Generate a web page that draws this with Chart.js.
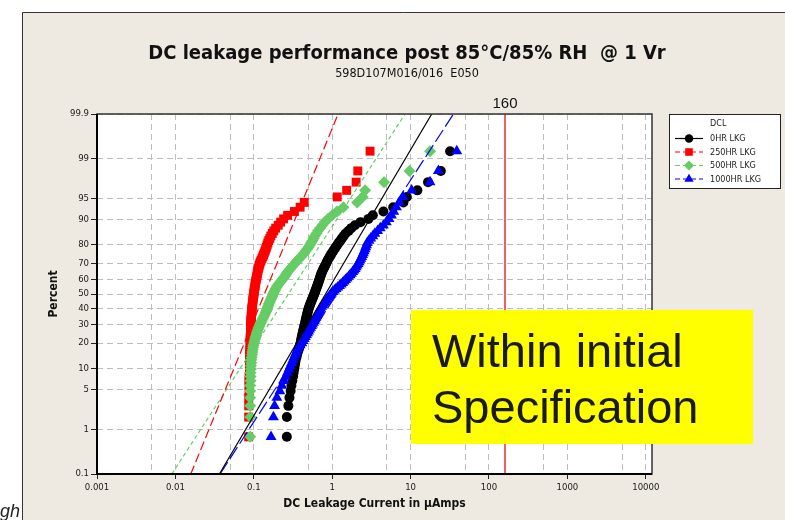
<!DOCTYPE html>
<html>
<head>
<meta charset="utf-8">
<title>DC leakage performance post 85°C/85% RH</title>
<script src="https://cdn.jsdelivr.net/npm/chart.js@4.4.0/dist/chart.umd.min.js"></script>
<style>
  html, body { margin: 0; padding: 0; background: #fff; }
  #wrap { width: 785px; height: 520px; }
</style>
</head>
<body>
<div id="wrap"><canvas id="probChart" width="785" height="520"></canvas></div>
<script>
// ---- data ----
const seriesNames = ['0HR LKG', '250HR LKG', '500HR LKG', '1000HR LKG'];

// plotting position (percent) of each ranked unit, 98 units per read point
const rankPercent = [0.71, 1.73, 2.74, 3.76, 4.78, 5.79, 6.81, 7.83, 8.84, 9.86,
  10.87, 11.89, 12.91, 13.92, 14.94, 15.96, 16.97, 17.99, 19.00, 20.02,
  21.04, 22.05, 23.07, 24.09, 25.10, 26.12, 27.13, 28.15, 29.17, 30.18,
  31.20, 32.22, 33.23, 34.25, 35.26, 36.28, 37.30, 38.31, 39.33, 40.35,
  41.36, 42.38, 43.39, 44.41, 45.43, 46.44, 47.46, 48.48, 49.49, 50.51,
  51.52, 52.54, 53.56, 54.57, 55.59, 56.61, 57.62, 58.64, 59.65, 60.67,
  61.69, 62.70, 63.72, 64.74, 65.75, 66.77, 67.78, 68.80, 69.82, 70.83,
  71.85, 72.87, 73.88, 74.90, 75.91, 76.93, 77.95, 78.96, 79.98, 81.00,
  82.01, 83.03, 84.04, 85.06, 86.08, 87.09, 88.11, 89.13, 90.14, 91.16,
  92.17, 93.19, 94.21, 95.22, 96.24, 97.26, 98.27, 99.29];

// leakage current in uA, sorted
const lkg0hr = [0.264, 0.264, 0.276, 0.285, 0.295, 0.302, 0.310, 0.317, 0.322, 0.328,
  0.333, 0.338, 0.343, 0.350, 0.357, 0.364, 0.372, 0.380, 0.388, 0.395,
  0.400, 0.405, 0.410, 0.415, 0.420, 0.425, 0.430, 0.436, 0.442, 0.448,
  0.453, 0.458, 0.463, 0.468, 0.473, 0.478, 0.484, 0.490, 0.496, 0.502,
  0.510, 0.518, 0.526, 0.535, 0.545, 0.555, 0.565, 0.575, 0.585, 0.595,
  0.605, 0.615, 0.625, 0.635, 0.645, 0.655, 0.665, 0.675, 0.685, 0.695,
  0.705, 0.716, 0.728, 0.742, 0.758, 0.775, 0.795, 0.815, 0.835, 0.855,
  0.875, 0.900, 0.930, 0.960, 0.990, 1.03, 1.07, 1.11, 1.16, 1.21,
  1.27, 1.33, 1.40, 1.48, 1.62, 1.75, 1.95, 2.30, 2.90, 3.30,
  4.50, 6.00, 8.10, 8.95, 12.2, 16.7, 24.3, 31.9];

const lkg250hr = [0.086, 0.086, 0.086, 0.086, 0.087, 0.087, 0.087, 0.087, 0.088, 0.088,
  0.088, 0.088, 0.088, 0.089, 0.089, 0.089, 0.089, 0.090, 0.090, 0.090,
  0.090, 0.090, 0.090, 0.091, 0.091, 0.091, 0.091, 0.091, 0.091, 0.092,
  0.092, 0.092, 0.092, 0.093, 0.093, 0.093, 0.094, 0.094, 0.094, 0.095,
  0.095, 0.096, 0.096, 0.097, 0.097, 0.098, 0.098, 0.099, 0.100, 0.100,
  0.101, 0.101, 0.102, 0.103, 0.104, 0.104, 0.105, 0.106, 0.107, 0.108,
  0.109, 0.110, 0.111, 0.112, 0.113, 0.114, 0.116, 0.117, 0.119, 0.121,
  0.124, 0.127, 0.130, 0.133, 0.136, 0.139, 0.142, 0.145, 0.148, 0.151,
  0.155, 0.160, 0.165, 0.172, 0.180, 0.190, 0.205, 0.220, 0.240, 0.270,
  0.330, 0.390, 0.440, 1.16, 1.53, 2.02, 2.12, 3.04];

const lkg500hr = [0.090, 0.090, 0.090, 0.090, 0.090, 0.090, 0.091, 0.091, 0.091, 0.092,
  0.092, 0.093, 0.093, 0.094, 0.095, 0.096, 0.097, 0.098, 0.099, 0.101,
  0.102, 0.104, 0.105, 0.107, 0.109, 0.111, 0.113, 0.115, 0.118, 0.120,
  0.123, 0.126, 0.129, 0.132, 0.135, 0.138, 0.141, 0.144, 0.147, 0.149,
  0.151, 0.154, 0.156, 0.159, 0.162, 0.165, 0.169, 0.172, 0.175, 0.178,
  0.182, 0.186, 0.190, 0.195, 0.200, 0.207, 0.214, 0.222, 0.230, 0.238,
  0.246, 0.254, 0.262, 0.270, 0.280, 0.292, 0.305, 0.318, 0.332, 0.346,
  0.362, 0.380, 0.400, 0.420, 0.440, 0.460, 0.480, 0.500, 0.520, 0.540,
  0.560, 0.580, 0.600, 0.630, 0.660, 0.700, 0.750, 0.800, 0.880, 1.00,
  1.15, 1.39, 2.08, 2.45, 2.63, 4.59, 9.66, 17.7];

const lkg1000hr = [0.166, 0.178, 0.184, 0.197, 0.215, 0.228, 0.242, 0.255, 0.268, 0.280,
  0.292, 0.304, 0.315, 0.326, 0.337, 0.348, 0.360, 0.375, 0.390, 0.410,
  0.425, 0.440, 0.455, 0.470, 0.485, 0.500, 0.515, 0.530, 0.545, 0.560,
  0.575, 0.590, 0.605, 0.620, 0.635, 0.650, 0.665, 0.680, 0.695, 0.710,
  0.735, 0.760, 0.785, 0.810, 0.835, 0.860, 0.890, 0.920, 0.950, 0.980,
  1.02, 1.07, 1.12, 1.18, 1.24, 1.30, 1.36, 1.42, 1.48, 1.55,
  1.62, 1.69, 1.76, 1.83, 1.90, 1.96, 2.02, 2.08, 2.14, 2.20,
  2.26, 2.32, 2.38, 2.44, 2.50, 2.56, 2.62, 2.68, 2.74, 2.80,
  2.95, 3.10, 3.30, 3.50, 3.80, 4.10, 4.50, 4.90, 5.30, 5.70,
  6.10, 6.60, 7.20, 8.00, 10.3, 17.7, 22.6, 38.8];

// lognormal fit lines: current at 0.1% and at 99.9%
const fitPercent = [0.1, 99.9];
const fit0hr = [0.0364, 18.6];
const fit250hr = [0.0157, 1.19];
const fit500hr = [0.0090, 8.5];
const fit1000hr = [0.0371, 35.2];

const specLimit = 160;

const xTickValues = [0.001, 0.005, 0.01, 0.05, 0.1, 0.5, 1, 5, 10, 50, 100, 500, 1000, 5000, 10000];
const xTickLabels = ['0.001', '', '0.01', '', '0.1', '', '1', '', '10', '', '100', '', '1000', '', '10000'];
const yTickValues = [0.1, 1, 5, 10, 20, 30, 40, 50, 60, 70, 80, 90, 95, 99, 99.9];
const yTickLabels = ['0.1', '1', '5', '10', '20', '30', '40', '50', '60', '70', '80', '90', '95', '99', '99.9'];

// ---- look ----
const colors = ['#000000', '#ff0000', '#66cc66', '#0000ff'];
const markerStyles = ['circle', 'rect', 'rectRot', 'triangle'];
const markerSizes = [5, 6.3, 6, 6.3];
const fitDashes = [[], [9, 4], [4, 3], [14, 4]];
const panelColor = '#eeeae1';
const condensed = '"DejaVu Sans Condensed", "DejaVu Sans", sans-serif';
const arial = '"Liberation Sans", Arial, sans-serif';

// inverse of the standard normal cdf (Acklam)
function probit(p) {
    const a = [-39.69683028665376, 220.9460984245205, -275.9285104469687, 138.3577518672690, -30.66479806614716, 2.506628277459239];
    const b = [-54.47609879822406, 161.5858368580409, -155.6989798598866, 66.80131188771082, -13.28068155288572];
    const c = [-0.007784894002430293, -0.3223964580411365, -2.400758277161838, -2.549732539343734, 4.374664141464968, 2.938163982698783];
    const d = [0.007784695709041462, 0.3224671290700398, 2.445134137142996, 3.754408661907416];
    const plow = 0.02425;
    let q, r;
    if (p < plow) {
        q = Math.sqrt(-2 * Math.log(p));
        return (((((c[0] * q + c[1]) * q + c[2]) * q + c[3]) * q + c[4]) * q + c[5]) / ((((d[0] * q + d[1]) * q + d[2]) * q + d[3]) * q + 1);
    }
    if (p > 1 - plow) {
        q = Math.sqrt(-2 * Math.log(1 - p));
        return -(((((c[0] * q + c[1]) * q + c[2]) * q + c[3]) * q + c[4]) * q + c[5]) / ((((d[0] * q + d[1]) * q + d[2]) * q + d[3]) * q + 1);
    }
    q = p - 0.5;
    r = q * q;
    return (((((a[0] * r + a[1]) * r + a[2]) * r + a[3]) * r + a[4]) * r + a[5]) * q / (((((b[0] * r + b[1]) * r + b[2]) * r + b[3]) * r + b[4]) * r + 1);
}

// normal probability axis (values in percent)
class ProbabilityScale extends Chart.Scale {
    determineDataLimits() {
        this.min = this.options.min;
        this.max = this.options.max;
    }
    buildTicks() {
        return yTickValues.map(v => ({ value: v }));
    }
    getLabelForValue(v) {
        return v + '%';
    }
    configure() {
        super.configure();
        this._zLo = probit(this.min / 100);
        this._zHi = probit(this.max / 100);
    }
    getPixelForValue(v) {
        const z = probit(v / 100);
        return this.getPixelForDecimal((z - this._zLo) / (this._zHi - this._zLo));
    }
    getPixelForTick(i) {
        return this.getPixelForValue(this.ticks[i].value);
    }
    getValueForPixel(px) {
        return null;
    }
}
ProbabilityScale.id = 'probability';
ProbabilityScale.defaults = {};
Chart.register(ProbabilityScale);

const seriesValues = [lkg0hr, lkg250hr, lkg500hr, lkg1000hr];
const fits = [fit0hr, fit250hr, fit500hr, fit1000hr];

const datasets = [];
seriesValues.forEach((vals, s) => {
    datasets.push({
        label: seriesNames[s],
        data: vals.map((v, i) => ({ x: v, y: rankPercent[i] })),
        showLine: false,
        pointStyle: markerStyles[s],
        pointRadius: markerSizes[s],
        pointBackgroundColor: colors[s],
        pointBorderWidth: 0,
        order: 5 - s
    });
});
fits.forEach((f, s) => {
    datasets.push({
        label: seriesNames[s] + ' fit',
        data: f.map((v, i) => ({ x: v, y: fitPercent[i] })),
        showLine: true,
        borderColor: colors[s],
        borderWidth: 1.2,
        borderDash: fitDashes[s],
        pointRadius: 0,
        order: 0
    });
});
datasets.push({
    label: 'spec',
    data: [{ x: specLimit, y: fitPercent[0] }, { x: specLimit, y: fitPercent[1] }],
    showLine: true,
    borderColor: '#e01010',
    borderWidth: 1.3,
    pointRadius: 0,
    order: 0
});

const decor = {
    id: 'decor',
    beforeDraw(chart) {
        const ctx = chart.ctx;
        const a = chart.chartArea;
        ctx.save();
        ctx.fillStyle = '#fff';
        ctx.fillRect(0, 0, chart.width, chart.height);
        // end of a word from the slide, cut by the panel
        ctx.fillStyle = '#222';
        ctx.font = 'italic 18px ' + arial;
        ctx.fillText('gh', 0, 517);
        ctx.fillStyle = panelColor;
        ctx.fillRect(22, 12, chart.width - 22, chart.height - 12);
        ctx.strokeStyle = '#333';
        ctx.lineWidth = 1;
        ctx.beginPath();
        ctx.moveTo(22.5, chart.height);
        ctx.lineTo(22.5, 12.5);
        ctx.lineTo(chart.width, 12.5);
        ctx.stroke();
        ctx.fillStyle = '#fff';
        ctx.fillRect(a.left, a.top, a.right - a.left, a.bottom - a.top);
        ctx.restore();
    },
    afterDraw(chart) {
        const ctx = chart.ctx;
        const a = chart.chartArea;
        ctx.save();

        // plot frame
        ctx.strokeStyle = '#333';
        ctx.lineWidth = 1.5;
        ctx.strokeRect(a.left, a.top, a.right - a.left, a.bottom - a.top);
        ctx.strokeStyle = '#000';
        ctx.lineWidth = 2;
        ctx.beginPath();
        ctx.moveTo(a.left, a.top);
        ctx.lineTo(a.left, a.bottom);
        ctx.lineTo(a.right, a.bottom);
        ctx.stroke();

        // titles
        ctx.fillStyle = '#111';
        ctx.textAlign = 'center';
        ctx.textBaseline = 'alphabetic';
        ctx.font = 'bold 20px ' + condensed;
        ctx.fillText('DC leakage performance post 85°C/85% RH  @ 1 Vr', 407, 59);
        ctx.font = '12.5px ' + condensed;
        ctx.fillText('598D107M016/016  E050', 407, 77);
        ctx.font = 'bold 12px ' + condensed;
        ctx.fillText('DC Leakage Current in µAmps', (a.left + a.right) / 2, 507);
        ctx.save();
        ctx.translate(57, (a.top + a.bottom) / 2);
        ctx.rotate(-Math.PI / 2);
        ctx.fillText('Percent', 0, 0);
        ctx.restore();

        // spec limit label
        ctx.font = '15px ' + arial;
        ctx.fillText(String(specLimit), chart.scales.x.getPixelForValue(specLimit), 108);

        // legend
        const lx = 669.5, ly = 114.5, lw = 111, lh = 74;
        ctx.fillStyle = '#fff';
        ctx.fillRect(lx, ly, lw, lh);
        ctx.strokeStyle = '#222';
        ctx.lineWidth = 1;
        ctx.strokeRect(lx, ly, lw, lh);
        ctx.fillStyle = '#222';
        ctx.textAlign = 'left';
        ctx.textBaseline = 'middle';
        ctx.font = '9px ' + condensed;
        ctx.fillText('DCL', 710, 123.5);
        seriesNames.forEach((name, s) => {
            const y = 138.5 + s * 13.5;
            ctx.strokeStyle = colors[s];
            ctx.lineWidth = 1.2;
            ctx.setLineDash(fitDashes[s].length ? [5, 3] : []);
            ctx.beginPath();
            ctx.moveTo(675, y);
            ctx.lineTo(703, y);
            ctx.stroke();
            ctx.setLineDash([]);
            ctx.fillStyle = colors[s];
            Chart.helpers.drawPoint(ctx, { pointStyle: markerStyles[s], radius: markerSizes[s] * 0.85, rotation: 0, borderWidth: 0 }, 689, y);
            ctx.fillStyle = '#222';
            ctx.fillText(name, 710, y + 0.5);
        });

        // annotation box
        ctx.fillStyle = '#ffff00';
        ctx.fillRect(411, 310, 342, 134);
        ctx.fillStyle = '#1a1a1a';
        ctx.textBaseline = 'alphabetic';
        ctx.font = '47px ' + arial;
        ctx.fillText('Within initial', 432, 367);
        ctx.fillText('Specification', 432, 423);

        ctx.restore();
    }
};

Chart.defaults.font.family = condensed;

new Chart(document.getElementById('probChart'), {
    type: 'scatter',
    data: { datasets: datasets },
    options: {
        responsive: false,
        animation: false,
        events: [],
        layout: { padding: { left: 0, top: 114, right: 133, bottom: 0 } },
        plugins: {
            legend: { display: false },
            tooltip: { enabled: false },
            title: { display: false }
        },
        scales: {
            x: {
                type: 'logarithmic',
                min: 0.001,
                max: 12000,
                afterBuildTicks: (scale) => {
                    scale.ticks = xTickValues.map(v => ({ value: v }));
                },
                afterFit: (scale) => { scale.height = 46; },
                ticks: {
                    autoSkip: false,
                    maxRotation: 0,
                    minRotation: 0,
                    padding: 3,
                    color: '#1a1a1a',
                    font: { size: 9.5 },
                    callback: (v, i) => xTickLabels[i]
                },
                grid: {
                    color: '#bdbdbd',
                    lineWidth: 1,
                    tickLength: 5,
                    tickWidth: 1,
                    tickColor: (ctx) => (xTickLabels[ctx.index] ? '#222' : 'rgba(0,0,0,0)')
                },
                border: { display: false, dash: [6, 4] }
            },
            y: {
                type: 'probability',
                position: 'left',
                min: 0.1,
                max: 99.9,
                afterFit: (scale) => { scale.width = 97; },
                ticks: {
                    autoSkip: false,
                    padding: 2,
                    color: '#1a1a1a',
                    font: { size: 9.5 },
                    callback: (v, i) => yTickLabels[i]
                },
                grid: {
                    color: '#bdbdbd',
                    lineWidth: 1,
                    tickLength: 6,
                    tickWidth: 1,
                    tickColor: '#222'
                },
                border: { display: false, dash: [6, 4] }
            }
        }
    },
    plugins: [decor]
});
</script>
</body>
</html>
